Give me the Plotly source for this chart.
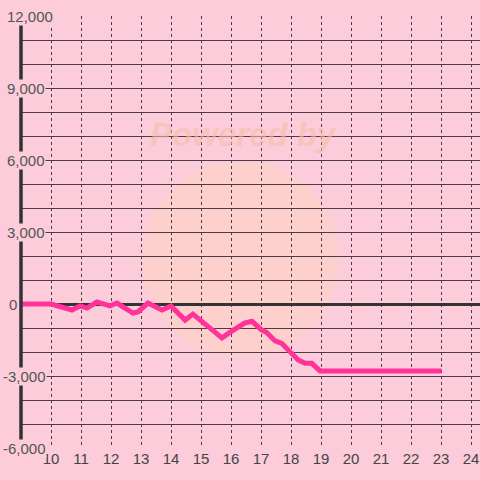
import plotly.graph_objects as go

x_vals = [9, 10, 10.7, 10.97, 11.2, 11.53, 11.97, 12.2, 12.73, 12.9, 13.23, 13.7, 14.0,
          14.47, 14.73, 15.7, 16.0, 16.45, 16.7, 17.02, 17.19, 17.47, 17.69, 17.91,
          18.24, 18.47, 18.69, 18.97, 23.02]
y_vals = [0, 0, -250, -80, -170, 80, -80, 40, -375, -330, 40, -250, -80,
          -670, -420, -1410, -1150, -800, -720, -1080, -1190, -1540, -1640, -1920,
          -2330, -2470, -2470, -2790, -2790]

x_ticks = list(range(10, 25))
y_tick_vals = [12000, 9000, 6000, 3000, 0, -3000, -6000]
y_tick_text = ["12,000", "9,000", "6,000", "3,000", "0", "-3,000", "-6,000"]

BG = "#FCCCDA"
GRID = "#4f3a48"

W, H = 480, 480
L, R, T, B = 21, 0, 16, 32
pw, ph = W - L - R, H - T - B

def px_x(px):
    return (px - L) / pw

def px_y(py):
    return (H - B - py) / ph

fig = go.Figure()
fig.add_trace(go.Scatter(x=x_vals, y=y_vals, mode="lines",
                         line=dict(color="#FF3399", width=5, shape="linear"),
                         hoverinfo="skip", showlegend=False))

shapes = [
    dict(type="circle", xref="paper", yref="paper", layer="below",
         x0=px_x(142), x1=px_x(339), y0=px_y(357), y1=px_y(161),
         fillcolor="rgba(255,215,175,0.30)", line=dict(width=0)),
    dict(type="line", xref="paper", yref="paper",
         x0=0, x1=0, y0=px_y(448), y1=px_y(16),
         line=dict(color="#333333", width=3.5)),
]

annotations = [
    dict(text="Powered by", xref="paper", yref="paper", x=px_x(243), y=px_y(134),
         xanchor="center", yanchor="middle",
         showarrow=False, font=dict(size=33, color="rgba(245,190,170,0.6)",
                                     family="Liberation Sans", weight="bold", style="italic")),
]
for v, t in zip(y_tick_vals, y_tick_text):
    left_px = 2 if t.startswith("-") else (8 if t == "0" else 6)
    annotations.append(dict(text=t, xref="paper", yref="y", x=px_x(left_px), y=v,
                            xanchor="left", yanchor="middle", showarrow=False,
                            bgcolor=BG, borderpad=0,
                            font=dict(size=15, color="#555555", family="Liberation Sans")))

fig.update_layout(
    width=W, height=H,
    margin=dict(l=L, r=R, t=T, b=B),
    paper_bgcolor=BG, plot_bgcolor=BG,
    shapes=shapes, annotations=annotations,
    xaxis=dict(range=[9, 24.3], tickvals=x_ticks, ticktext=[str(v) for v in x_ticks],
               showgrid=True, gridcolor=GRID, gridwidth=1, griddash="dot",
               zeroline=False, showline=False, ticks="",
               tickfont=dict(size=15, color="#444444", family="Liberation Sans")),
    yaxis=dict(range=[-6000, 12000], tickvals=list(range(-6000, 12001, 1000)),
               showticklabels=False, showgrid=True, gridcolor=GRID, gridwidth=1,
               zeroline=True, zerolinecolor="#333333", zerolinewidth=3,
               showline=False, ticks=""),
)

fig.write_html("out.html", config={"displayModeBar": False},
               post_script="document.body.style.margin='0';document.body.style.background='" + BG + "';")
